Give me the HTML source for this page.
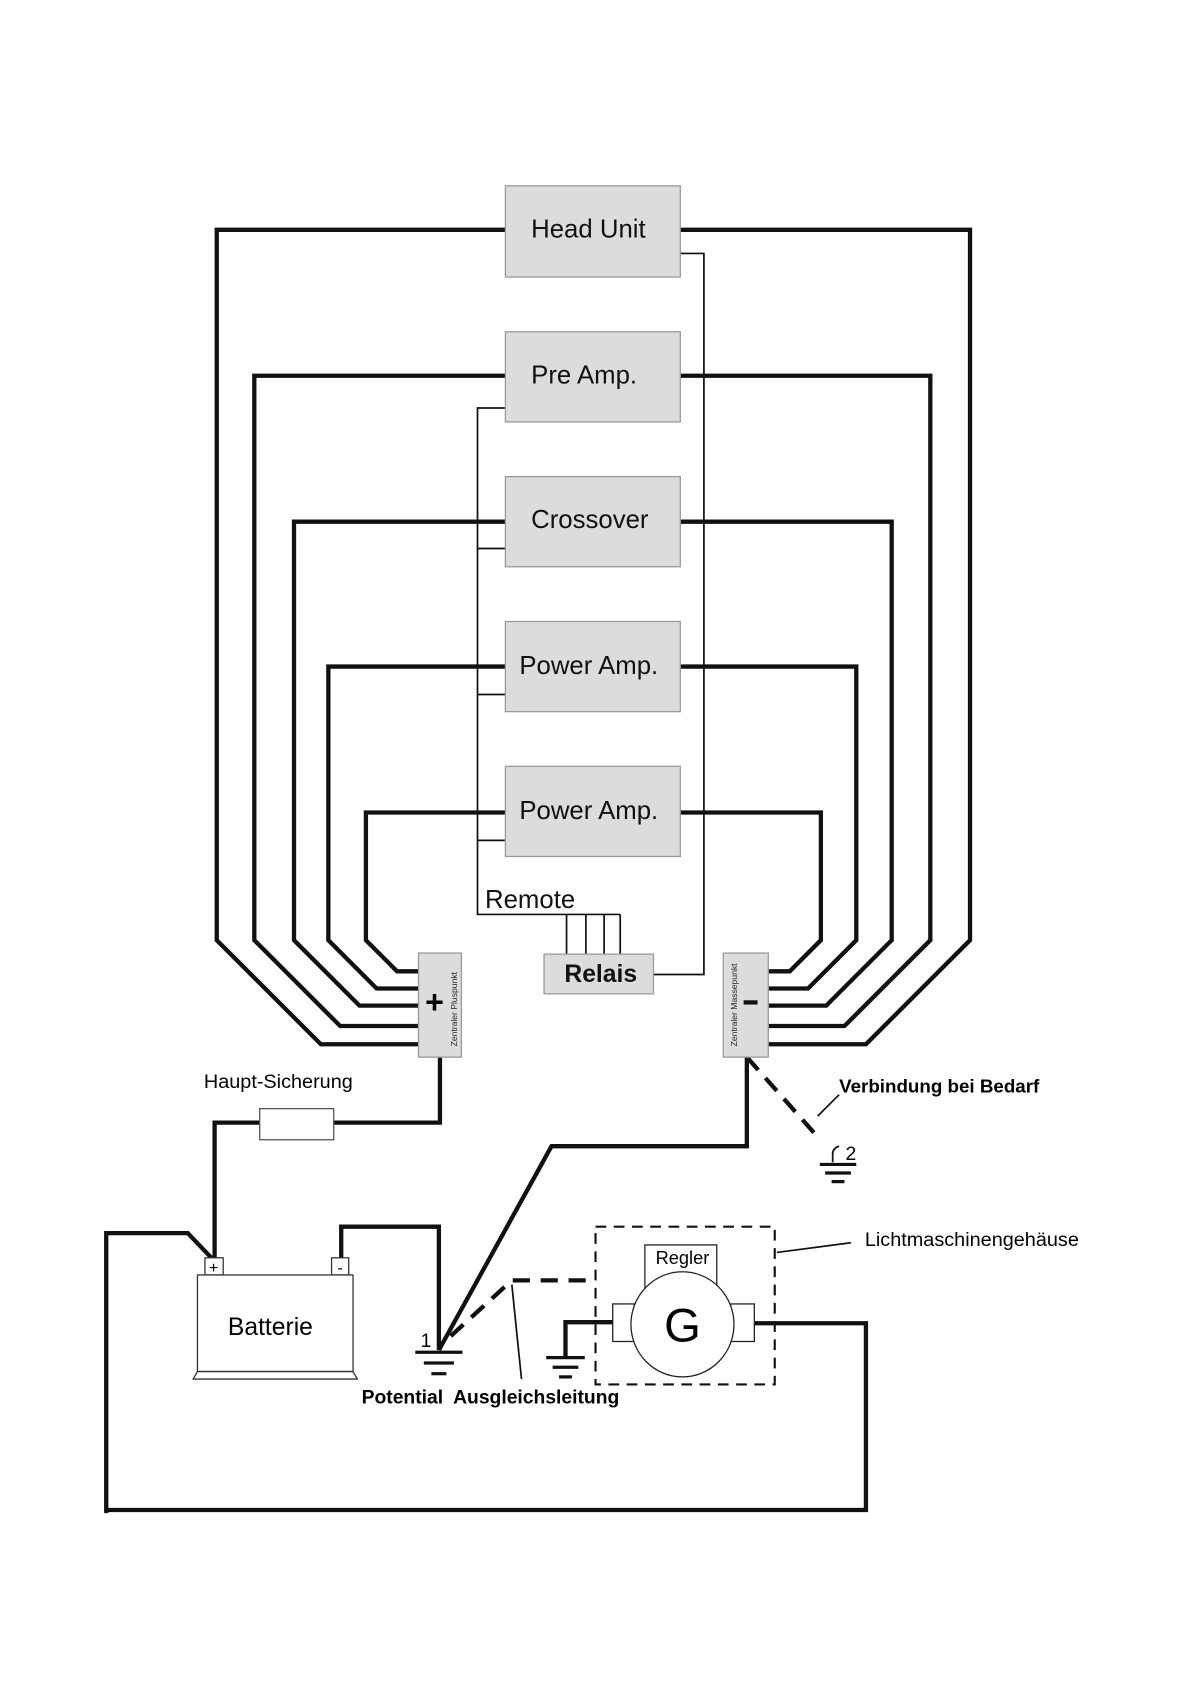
<!DOCTYPE html>
<html><head><meta charset="utf-8"><style>html,body{margin:0;padding:0;background:#fff}svg{display:block}</style></head><body>
<svg width="1190" height="1684" viewBox="0 0 1109 1569" xmlns="http://www.w3.org/2000/svg" font-family="Liberation Sans, sans-serif">
<rect width="1109" height="1569" fill="#fff"/>
<g fill="none" stroke="#111" stroke-width="4" stroke-linejoin="miter">
<polyline points="471,214 202,214 202,876 299,973 390,973"/>
<polyline points="471,350 237,350 237,876 317,956 390,956"/>
<polyline points="471,486 274,486 274,876 335,937 390,937"/>
<polyline points="471,621 306,621 306,876 351,921 390,921"/>
<polyline points="471,757 341,757 341,876 370,905 390,905"/>
<polyline points="634,214 904,214 904,876 807,973 716,973"/>
<polyline points="634,350 867,350 867,876 787,956 716,956"/>
<polyline points="634,486 831,486 831,876 770,937 716,937"/>
<polyline points="634,621 798,621 798,876 753,921 716,921"/>
<polyline points="634,757 765,757 765,876 736,905 716,905"/>
<polyline points="410,985 410,1046 200,1046 200,1172"/>
<polyline points="99,1410 99,1149 175,1149 197,1172"/>
<polyline points="99,1407 807,1407 807,1233 703,1233"/>
<polyline points="318,1172 318,1143 409,1143 409,1258"/>
<polyline points="696,985 696,1068 514,1068 409,1258"/>
<polyline points="571,1232 527,1232 527,1265"/>
<polyline points="696,985 760,1057" stroke-dasharray="16,10"/>
<polyline points="420,1245 477,1193 555,1193" stroke-dasharray="16,10"/>
</g>
<g fill="none" stroke="#111" stroke-width="1.6">
<polyline points="634,236 656,236 656,908 609,908"/>
<polyline points="471,380 445,380 445,852 578,852"/>
<line x1="445" y1="486" x2="471" y2="486"/><line x1="445" y1="511" x2="471" y2="511"/>
<line x1="445" y1="647" x2="471" y2="647"/><line x1="445" y1="783" x2="471" y2="783"/>
<line x1="528" y1="852" x2="528" y2="889"/><line x1="546" y1="852" x2="546" y2="889"/>
<line x1="563" y1="852" x2="563" y2="889"/><line x1="578" y1="852" x2="578" y2="889"/>
<line x1="762" y1="1040" x2="782" y2="1020"/>
<line x1="477" y1="1197" x2="486" y2="1285"/>
<line x1="724" y1="1167" x2="793" y2="1158"/>
<path d="M776,1083 L776,1075 Q776,1070 782,1068"/>
</g>
<g fill="#dcdcdc" stroke="#999" stroke-width="1.2">
<rect x="471" y="173" width="163" height="85"/>
<rect x="471" y="309" width="163" height="84"/>
<rect x="471" y="444" width="163" height="84"/>
<rect x="471" y="579" width="163" height="84"/>
<rect x="471" y="714" width="163" height="84"/>
<rect x="507" y="889" width="102" height="37"/>
<rect x="390" y="888" width="40" height="97"/>
<rect x="674" y="888" width="42" height="97"/>
</g>
<g font-size="24" fill="#111">
<text x="495" y="221">Head Unit</text>
<text x="495" y="357">Pre Amp.</text>
<text x="495" y="492">Crossover</text>
<text x="484" y="628">Power Amp.</text>
<text x="484" y="763">Power Amp.</text>
<text x="452" y="846">Remote</text>
<text x="526" y="915" font-weight="bold" font-size="23">Relais</text>
</g>
<text x="405" y="944" font-size="30" font-weight="bold" text-anchor="middle">+</text>
<rect x="693" y="932" width="13" height="4" fill="#111"/>
<text transform="translate(426,975) rotate(-90)" font-size="8" fill="#222">Zentraler Pluspunkt</text>
<text transform="translate(687,975) rotate(-90)" font-size="8" fill="#222">Zentraler Massepunkt</text>
<rect x="242" y="1033" width="69" height="29" fill="#fff" stroke="#555" stroke-width="1.2"/>
<text x="190" y="1014" font-size="18.5">Haupt-Sicherung</text>
<g stroke="#333" stroke-width="1.2" fill="#fff">
<rect x="191" y="1172" width="17" height="16"/>
<rect x="309" y="1172" width="16" height="16"/>
<rect x="184" y="1188" width="145" height="90"/>
<polygon points="184,1278 329,1278 333,1285 180,1285"/>
</g>
<text x="199" y="1186" font-size="15" text-anchor="middle">+</text>
<text x="317" y="1186" font-size="15" text-anchor="middle">-</text>
<text x="252" y="1244" font-size="23" text-anchor="middle">Batterie</text>
<g stroke="#111" stroke-width="3">
<line x1="387" y1="1260" x2="431" y2="1260"/><line x1="395" y1="1270" x2="423" y2="1270"/><line x1="402" y1="1280" x2="416" y2="1280"/>
<line x1="509" y1="1265" x2="545" y2="1265"/><line x1="515" y1="1274" x2="539" y2="1274"/><line x1="521" y1="1283" x2="533" y2="1283"/>
<line x1="764" y1="1085" x2="798" y2="1085"/><line x1="769" y1="1093" x2="793" y2="1093"/><line x1="775" y1="1101" x2="787" y2="1101"/>
</g>
<text x="392" y="1255" font-size="18">1</text>
<text x="788" y="1081" font-size="18">2</text>
<text x="782" y="1018" font-size="17.5" font-weight="bold">Verbindung bei Bedarf</text>
<rect x="555" y="1143" width="167" height="147" fill="none" stroke="#111" stroke-width="2" stroke-dasharray="10,7"/>
<g stroke="#222" stroke-width="1.2" fill="#fff">
<rect x="601" y="1160" width="67" height="42"/>
<rect x="571" y="1215" width="20" height="35"/>
<rect x="681" y="1215" width="22" height="35"/>
<ellipse cx="636" cy="1234" rx="48" ry="49"/>
</g>
<text x="636" y="1178" font-size="17" text-anchor="middle">Regler</text>
<text x="636" y="1250" font-size="44" text-anchor="middle">G</text>
<text x="806" y="1161" font-size="18.5">Lichtmaschinengehäuse</text>
<text x="337" y="1308" font-size="18" font-weight="bold" xml:space="preserve">Potential  Ausgleichsleitung</text>
</svg>
</body></html>
